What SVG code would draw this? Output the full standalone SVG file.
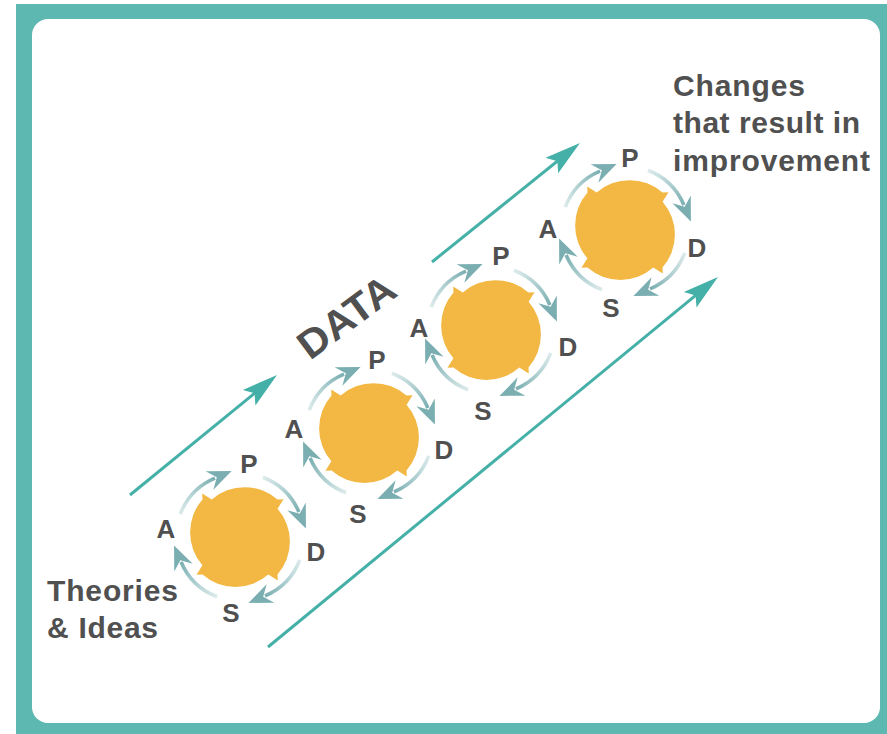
<svg xmlns="http://www.w3.org/2000/svg" width="887" height="734" viewBox="0 0 887 734">
<style>
.lbl{font-family:"Liberation Sans",Arial,sans-serif;font-weight:bold;fill:#505050}
.cyc{font-size:26px;text-anchor:middle}
.side{font-size:30px}
.ring{fill:none;stroke-width:3.6}
.blob{fill:#f2b843}
.flow{fill:none;stroke:#45b0a7;stroke-width:3}
</style>
<defs>
<linearGradient id="g1" gradientUnits="userSpaceOnUse" x1="-59.8" y1="-22.9" x2="-25" y2="-58.9"><stop offset="0" stop-color="#8dbcbe" stop-opacity="0.3"/><stop offset="1" stop-color="#7aaeb1"/></linearGradient>
<linearGradient id="g2" gradientUnits="userSpaceOnUse" x1="22.9" y1="-59.8" x2="58.9" y2="-25"><stop offset="0" stop-color="#8dbcbe" stop-opacity="0.3"/><stop offset="1" stop-color="#7aaeb1"/></linearGradient>
<linearGradient id="g3" gradientUnits="userSpaceOnUse" x1="59.8" y1="22.9" x2="25" y2="58.9"><stop offset="0" stop-color="#8dbcbe" stop-opacity="0.3"/><stop offset="1" stop-color="#7aaeb1"/></linearGradient>
<linearGradient id="g4" gradientUnits="userSpaceOnUse" x1="-22.9" y1="59.8" x2="-58.9" y2="25"><stop offset="0" stop-color="#8dbcbe" stop-opacity="0.3"/><stop offset="1" stop-color="#7aaeb1"/></linearGradient>
<marker id="ah" viewBox="0 -12 26 24" markerWidth="26" markerHeight="24" refX="6" refY="0" orient="auto" markerUnits="userSpaceOnUse">
<path d="M0,-10 L24,0 L0,10 L8,0 Z" fill="#7aaeb1"/>
</marker>
<marker id="fh" viewBox="0 -12 40 24" markerWidth="40" markerHeight="24" refX="24" refY="0" orient="auto" markerUnits="userSpaceOnUse">
<path d="M0,-10 L36,0 L0,10 L7,0 Z" fill="#45b0a7"/>
</marker>
<path id="blob" class="blob" d="M-28.3,-37.5 A50,50 0 0 1 37.5,-37.5 L43.5,-37.8 L37.6,-28.3 A50,50 0 0 1 37.5,37.5 L37.8,43.5 L28.3,37.6 A50,50 0 0 1 -37.5,37.5 L-43.5,37.8 L-37.6,28.3 A50,50 0 0 1 -37.5,-37.5 L-37.8,-43.5 Z"/>
<g id="ring">
<path class="ring" d="M-59.8,-22.9 A64,64 0 0 1 -25,-58.9" stroke="url(#g1)" marker-end="url(#ah)"/>
<path class="ring" d="M22.9,-59.8 A64,64 0 0 1 58.9,-25" stroke="url(#g2)" marker-end="url(#ah)"/>
<path class="ring" d="M59.8,22.9 A64,64 0 0 1 25,58.9" stroke="url(#g3)" marker-end="url(#ah)"/>
<path class="ring" d="M-22.9,59.8 A64,64 0 0 1 -58.9,25" stroke="url(#g4)" marker-end="url(#ah)"/>
</g>
</defs>

<g id="frame">
<rect x="16" y="4" width="871" height="730" fill="#5cb8b0"/>
<rect x="32" y="19" width="848" height="704" rx="16" fill="#ffffff"/>
</g>

<g id="connectors">
<path class="flow" d="M130,495 L267.7,382.6" marker-end="url(#fh)"/>
<path class="flow" d="M432,262 L570.6,150.5" marker-end="url(#fh)"/>
<path class="flow" d="M268,647 L708.7,284.6" marker-end="url(#fh)"/>
</g>

<g id="cycle1">
<use href="#blob" transform="translate(240,537)"/>
<use href="#ring" transform="translate(240,537)"/>
<text class="lbl cyc" x="249" y="472.5">P</text>
<text class="lbl cyc" x="316" y="560.5">D</text>
<text class="lbl cyc" x="231" y="621.5">S</text>
<text class="lbl cyc" x="166" y="537.5">A</text>
</g>

<g id="cycle2">
<use href="#blob" transform="translate(369,433)"/>
<use href="#ring" transform="translate(369,433)"/>
<text class="lbl cyc" x="377" y="368.5">P</text>
<text class="lbl cyc" x="444" y="458.5">D</text>
<text class="lbl cyc" x="358" y="522.5">S</text>
<text class="lbl cyc" x="294" y="437.5">A</text>
</g>

<g id="cycle3">
<use href="#blob" transform="translate(491,330)"/>
<use href="#ring" transform="translate(491,330)"/>
<text class="lbl cyc" x="501" y="264.5">P</text>
<text class="lbl cyc" x="568" y="355.5">D</text>
<text class="lbl cyc" x="483" y="419.5">S</text>
<text class="lbl cyc" x="419" y="336.5">A</text>
</g>

<g id="cycle4">
<use href="#blob" transform="translate(625,230)"/>
<use href="#ring" transform="translate(625,230)"/>
<text class="lbl cyc" x="630" y="166.5">P</text>
<text class="lbl cyc" x="697" y="256.5">D</text>
<text class="lbl cyc" x="611" y="316.5">S</text>
<text class="lbl cyc" x="548" y="237.5">A</text>
</g>

<g id="data-label">
<text class="lbl" font-size="40" transform="translate(310,361) rotate(-36.5)" x="0" y="0" textLength="111" lengthAdjust="spacingAndGlyphs">DATA</text>
</g>

<g id="start-label">
<text class="lbl side" x="47" y="601" textLength="131" lengthAdjust="spacing">Theories</text>
<text class="lbl side" x="47" y="638" textLength="111" lengthAdjust="spacing">&amp; Ideas</text>
</g>

<g id="end-label">
<text class="lbl side" x="673" y="96" textLength="132" lengthAdjust="spacing">Changes</text>
<text class="lbl side" x="673" y="133" textLength="187" lengthAdjust="spacing">that result in</text>
<text class="lbl side" x="673" y="171" textLength="197" lengthAdjust="spacing">improvement</text>
</g>
</svg>
